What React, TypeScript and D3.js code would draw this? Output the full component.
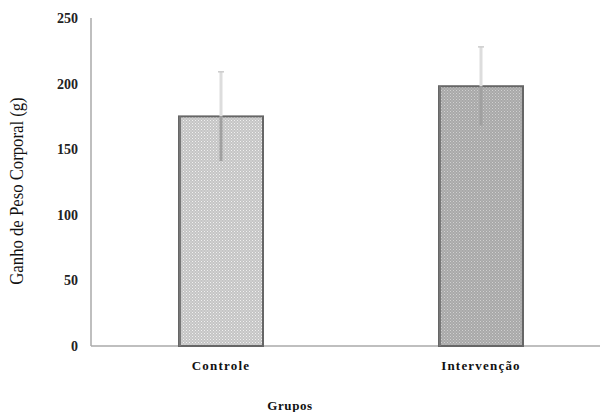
import React from 'react';
import * as d3 from 'd3';

const categories = ['Controle', 'Intervenção'];
const means = [175, 198];
const errors = [34, 30];
const yTicks = [0, 50, 100, 150, 200, 250];
const patterns = ['dotsLight', 'dotsDark'];

const W = 608;
const H = 412;

export default function App() {
  const x = d3.scalePoint<string>().domain(categories).range([91, 611]).padding(0.5);
  const y = d3.scaleLinear().domain([0, 250]).range([346, 18]);
  const barW = 84;

  return (
    <svg width={W} height={H} style={{ position: 'absolute', left: 0, top: 0, background: '#fff' }}
      fontFamily="'Liberation Serif', 'Times New Roman', serif">
      <defs>
        <pattern id="dotsLight" width="3" height="3" patternUnits="userSpaceOnUse">
          <rect width="3" height="3" fill="#c4c4c4" />
          <rect x="0" y="0" width="1" height="1" fill="#f0f0f0" />
          <rect x="1.5" y="1.5" width="1" height="1" fill="#e8e8e8" />
        </pattern>
        <pattern id="dotsDark" width="3" height="3" patternUnits="userSpaceOnUse">
          <rect width="3" height="3" fill="#a8a8a8" />
          <rect x="0" y="0" width="1" height="1" fill="#d0d0d0" />
          <rect x="1.5" y="1.5" width="1" height="1" fill="#c8c8c8" />
        </pattern>
      </defs>

      {/* axes */}
      <line x1={91} x2={91} y1={y(250)} y2={y(0)} stroke="#aaa" strokeWidth={1.5} />
      <line x1={91} x2={600} y1={y(0)} y2={y(0)} stroke="#aaa" strokeWidth={1.5} />

      {yTicks.map(t => (
        <text key={t} x={78} y={y(t)} dy="0.35em" textAnchor="end" fontSize={14} fontWeight="bold" fill="#222">
          {t}
        </text>
      ))}

      {/* bars */}
      {categories.map((c, i) => {
        const cx = x(c)!;
        return (
          <g key={c}>
            <rect x={cx - barW / 2} y={y(means[i])} width={barW} height={y(0) - y(means[i])}
              fill={`url(#${patterns[i]})`} stroke="#666" strokeWidth={2} />
            <line x1={cx - barW / 2 + 1} x2={cx - barW / 2 + 1} y1={y(means[i])} y2={y(0)} stroke="#777" strokeWidth={2} />
            <line x1={cx} x2={cx} y1={y(means[i] + errors[i])} y2={y(means[i])} stroke="#ddd" strokeWidth={3} />
            <line x1={cx} x2={cx} y1={y(means[i])} y2={y(means[i] - errors[i])} stroke="#a0a0a0" strokeWidth={3} />
            <line x1={cx - 3} x2={cx + 3} y1={y(means[i] + errors[i])} y2={y(means[i] + errors[i])} stroke="#ccc" strokeWidth={1.5} />
          </g>
        );
      })}

      {categories.map(c => (
        <text key={c} x={x(c)!} y={370} textAnchor="middle" fontSize={13} fontWeight="bold"
          letterSpacing="1.2" fill="#111">
          {c}
        </text>
      ))}

      <text x={290} y={410} textAnchor="middle" fontSize={13} fontWeight="bold" letterSpacing="0.6" fill="#111">
        Grupos
      </text>

      <text transform={`translate(23,191) rotate(-90) scale(0.88,1)`} textAnchor="middle" fontSize={19} fill="#111">
        Ganho de Peso Corporal (g)
      </text>
    </svg>
  );
}
